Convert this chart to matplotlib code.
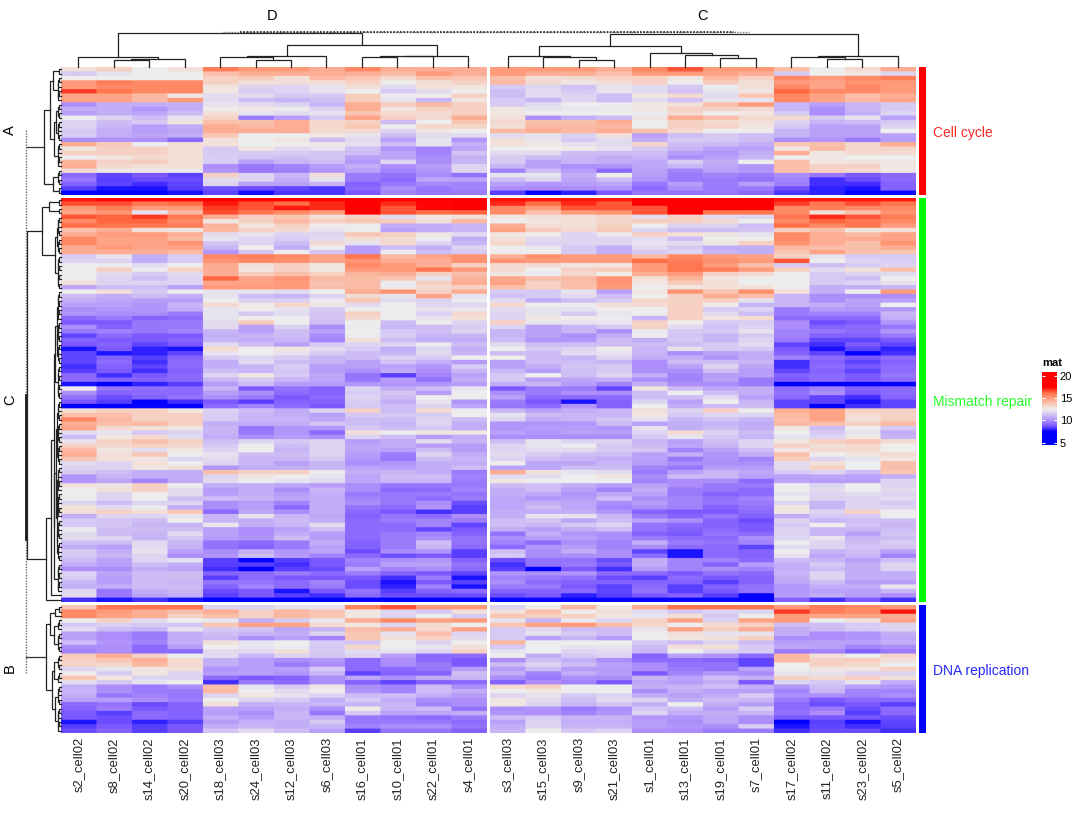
import numpy as np
import matplotlib
matplotlib.use("Agg")
import matplotlib.pyplot as plt
from matplotlib.colors import LinearSegmentedColormap, Normalize
from matplotlib.patches import Rectangle

plt.rcParams['font.family'] = ['Liberation Sans', 'DejaVu Sans']

sample_labels = ["s2_cell02","s8_cell02","s14_cell02","s20_cell02","s18_cell03","s24_cell03","s12_cell03","s6_cell03",
                 "s16_cell01","s10_cell01","s22_cell01","s4_cell01","s3_cell03","s15_cell03","s9_cell03","s21_cell03",
                 "s1_cell01","s13_cell01","s19_cell01","s7_cell01","s17_cell02","s11_cell02","s23_cell02","s5_cell02"]
pathways = ["Cell cycle", "Mismatch repair", "DNA replication"]
pathway_colors = ["#FF0000", "#00FF00", "#0000FF"]
row_slices = ["A", "C", "B"]
col_slices = ["D", "C"]

# expression values x10
cell_cycle = [
[130,135,125,130,158,150,150,145,155,145,145,145,150,150,150,145,155,165,150,150,140,125,132,145],
[115,122,125,125,140,145,145,145,145,142,150,145,150,145,145,140,150,150,148,145,115,125,128,118],
[125,125,125,125,135,137,130,142,138,132,140,138,140,130,132,135,135,128,142,135,155,150,155,158],
[150,158,155,155,135,130,130,130,135,125,130,135,142,132,128,130,135,125,137,130,150,148,152,150],
[150,155,155,155,128,118,118,122,130,120,130,128,115,118,113,122,120,115,124,130,155,148,155,150],
[168,160,155,155,128,116,118,122,125,115,120,125,112,120,115,122,120,113,122,128,163,155,155,150],
[148,148,142,128,120,120,115,115,136,124,126,135,112,120,118,112,128,132,120,138,155,148,140,145],
[148,148,142,150,120,112,110,112,136,122,110,128,115,110,118,112,120,113,122,122,155,148,142,148],
[100,108,108,108,122,120,118,110,145,137,142,135,115,120,125,125,128,130,140,150,110,105,110,115],
[108,108,102,108,125,128,124,118,145,128,135,135,128,122,123,124,128,135,135,132,110,100,110,115],
[105,108,106,112,130,122,120,122,138,132,132,135,128,125,125,125,124,132,125,128,115,100,108,118],
[125,118,112,122,134,96,104,115,148,135,132,145,130,100,108,112,128,145,140,132,132,115,122,105],
[118,112,115,128,140,140,145,133,135,112,125,138,132,140,140,145,125,135,132,130,118,110,112,115],
[118,110,104,108,145,142,145,132,138,125,133,133,130,142,142,142,125,135,134,128,115,105,105,118],
[115,108,104,106,145,145,145,132,132,118,128,125,142,145,142,145,140,132,125,125,110,105,105,125],
[116,108,106,108,138,125,125,128,122,112,120,120,120,122,117,130,105,112,115,112,110,105,105,105],
[100,101,101,92,130,125,128,112,120,105,122,102,130,122,115,120,108,115,115,112,100,102,96,104],
[145,137,125,130,130,125,125,127,121,112,122,108,130,127,122,120,133,112,112,108,138,140,133,145],
[128,135,135,130,115,128,120,122,113,102,98,106,125,125,126,122,115,110,105,105,128,142,133,133],
[135,135,134,130,115,115,116,114,112,106,98,114,120,120,112,112,112,104,102,108,145,128,132,132],
[125,128,132,130,116,114,112,114,105,106,100,109,116,112,110,108,110,100,105,110,125,127,125,125],
[143,134,136,130,116,105,110,112,103,118,100,110,115,105,110,108,107,116,108,125,140,128,129,127],
[145,132,130,130,100,95,98,104,108,100,104,118,110,105,100,102,106,110,106,102,140,135,135,127],
[131,127,127,124,102,95,97,102,105,98,102,118,98,112,104,92,105,98,105,102,140,135,132,127],
[92,85,88,85,135,118,110,130,96,94,100,94,122,122,108,125,104,96,98,96,100,95,88,92],
[95,84,86,86,120,118,108,122,96,92,106,106,112,118,106,112,102,96,96,94,98,82,86,92],
[90,85,82,85,118,105,105,110,90,95,99,98,105,102,104,106,95,104,96,104,97,82,82,90],
[84,78,78,84,87,86,85,83,92,100,95,98,100,100,100,102,92,100,96,96,87,80,78,90],
[75,75,75,78,85,77,83,83,88,98,95,96,84,75,80,88,95,94,95,92,83,80,75,76],
]
mismatch_repair = [
[172,174,174,174,175,175,175,175,175,175,175,175,173,172,172,172,175,175,175,175,172,172,172,172],
[166,166,160,162,172,166,162,170,175,170,174,175,170,162,170,165,175,175,175,175,168,160,166,160],
[150,158,150,150,168,165,172,170,175,165,174,175,155,150,165,165,165,175,175,175,155,158,155,155],
[148,152,122,142,166,160,155,150,175,165,162,163,155,140,150,152,165,175,160,160,155,130,140,152],
[165,163,168,160,145,135,138,130,135,120,128,130,128,130,130,133,120,135,120,118,160,170,165,158],
[155,163,163,155,128,135,142,135,138,136,130,142,125,128,130,133,136,135,132,125,155,163,160,155],
[162,160,160,158,143,128,135,126,124,108,108,110,145,130,130,135,125,118,118,112,162,155,160,150],
[140,145,130,128,142,135,132,122,125,105,108,110,148,137,132,137,118,112,112,114,135,140,128,130],
[145,150,150,145,120,122,118,118,138,135,128,120,128,125,118,124,135,130,128,122,155,145,142,148],
[155,148,148,142,122,118,116,120,130,132,124,108,130,120,118,118,121,112,125,125,155,145,145,148],
[155,148,148,152,114,118,112,132,122,132,118,110,133,118,118,118,122,120,127,135,152,145,140,152],
[145,150,148,148,110,125,108,125,104,112,108,118,125,123,115,108,120,115,108,108,142,140,140,145],
[145,145,145,142,102,114,124,114,104,124,112,115,125,125,115,108,115,118,110,108,138,148,140,138],
[116,122,108,116,155,158,155,148,160,142,148,152,145,153,150,150,142,155,150,148,135,122,115,116],
[118,118,108,116,152,155,153,148,152,145,145,152,152,150,150,150,162,158,153,150,165,125,118,116],
[124,124,120,125,146,130,135,128,155,150,145,135,132,132,128,128,150,160,150,140,115,112,116,118],
[125,135,124,135,145,128,135,128,150,150,160,150,132,125,135,136,150,160,158,150,135,120,130,140],
[125,120,115,120,145,136,140,135,143,145,135,140,128,124,133,126,145,150,135,132,125,115,118,120],
[125,118,112,118,163,148,152,142,141,138,122,143,147,140,142,152,130,143,128,125,125,115,112,125],
[130,118,118,118,148,148,150,139,141,124,135,145,148,135,140,152,128,137,130,125,126,115,118,122],
[106,112,112,105,150,150,150,140,141,124,132,134,140,135,140,150,125,128,130,130,125,108,108,110],
[125,130,115,125,122,122,120,125,145,152,135,145,116,115,122,105,128,152,138,153,130,108,125,150],
[112,108,112,108,122,112,110,118,132,122,148,122,113,115,120,112,125,134,145,140,110,100,100,100],
[108,106,104,104,125,117,117,124,138,120,118,124,120,108,112,116,133,134,135,122,110,100,105,105],
[105,105,102,110,132,126,133,127,120,125,119,119,133,125,124,130,132,135,125,110,110,108,105,125],
[100,102,102,108,122,126,122,115,125,125,122,123,120,122,122,125,125,135,115,118,96,104,103,103],
[102,100,100,96,122,115,120,114,135,125,117,132,118,122,115,123,125,135,120,112,96,98,98,110],
[92,96,90,92,122,125,125,114,132,125,122,130,118,128,126,124,110,135,128,132,92,92,92,108],
[88,88,95,96,120,136,125,112,125,112,125,118,135,122,122,123,135,125,115,116,100,86,88,102],
[100,90,95,95,120,105,117,100,124,110,112,116,118,105,110,115,135,120,113,118,100,90,92,95],
[95,97,95,98,110,105,112,105,125,115,112,118,110,105,110,100,124,115,115,122,98,95,92,102],
[85,92,88,88,108,110,112,100,124,116,110,110,110,105,100,108,125,114,110,115,98,90,90,95],
[90,88,88,90,110,108,110,98,130,112,108,108,112,102,102,112,108,115,110,118,95,85,85,88],
[88,90,85,88,120,112,105,115,118,118,124,112,120,112,112,112,112,112,115,120,85,82,88,85],
[78,88,80,78,132,125,128,120,116,108,118,108,125,115,118,125,110,122,115,115,88,78,85,80],
[85,78,80,85,122,125,122,116,112,110,120,110,112,112,120,122,110,100,105,108,90,85,75,82],
[85,90,84,90,115,118,116,110,112,118,115,125,125,112,110,118,108,108,102,108,98,92,88,92],
[85,92,82,92,108,120,112,110,105,113,108,104,105,112,112,110,100,112,112,110,82,90,85,90],
[82,90,85,92,108,110,116,104,105,105,102,116,105,108,114,115,100,105,118,106,82,92,88,92],
[84,88,82,90,112,110,114,104,100,108,100,110,110,104,112,115,100,100,112,104,85,90,85,92],
[92,82,88,92,118,128,115,106,94,84,98,105,115,125,112,118,108,98,104,104,90,92,88,95],
[92,90,90,92,110,115,110,106,95,104,94,108,115,105,106,108,100,98,105,96,88,92,88,92],
[78,75,80,84,104,112,104,104,102,102,102,104,108,110,104,98,108,100,100,96,75,75,75,75],
[126,95,93,92,110,88,94,90,118,108,112,122,88,96,96,85,128,112,106,108,92,98,90,92],
[100,90,92,92,104,100,92,90,116,114,104,125,100,96,100,100,112,125,112,108,94,100,88,92],
[94,86,90,94,100,96,88,92,118,112,125,125,105,92,92,92,112,112,120,105,92,85,82,90],
[88,84,75,82,88,84,90,90,116,108,122,102,96,88,78,90,118,105,125,110,85,85,78,85],
[75,75,76,75,92,98,92,88,115,112,118,106,95,92,102,90,125,108,112,112,85,75,82,85],
[130,135,135,127,117,112,108,118,135,112,132,125,110,105,108,110,130,118,135,125,145,148,135,135],
[140,140,135,135,116,110,108,105,115,115,116,125,122,112,110,110,128,115,118,118,142,148,132,135],
[155,142,135,135,116,110,110,106,112,112,118,112,118,108,110,114,122,110,114,110,140,148,130,135],
[145,140,142,135,108,108,108,114,112,110,118,108,102,102,102,112,105,108,110,108,142,140,135,142],
[148,132,130,128,110,95,102,102,115,112,115,108,102,104,104,102,122,108,112,108,128,112,125,115],
[120,122,115,118,110,95,102,92,130,125,128,128,105,102,105,104,118,132,118,112,125,115,122,108],
[112,127,132,120,108,100,104,100,118,112,104,108,100,100,100,100,115,122,115,110,122,118,128,110],
[122,135,140,135,112,118,115,118,104,108,120,110,112,122,118,118,110,105,112,118,128,135,138,132],
[135,132,135,132,115,125,112,118,106,108,104,104,118,122,124,115,112,106,110,118,135,130,132,125],
[142,128,120,128,118,125,110,118,106,105,112,104,118,120,120,115,114,98,105,112,128,132,132,125],
[145,130,138,125,122,112,112,118,104,96,118,108,120,116,112,112,105,108,102,108,140,125,128,132],
[138,130,128,118,120,110,110,115,102,95,112,110,118,112,110,108,105,95,102,98,136,118,122,128],
[120,118,130,125,118,110,105,110,100,102,108,108,125,106,106,110,104,100,100,100,120,130,125,140],
[118,118,128,130,102,108,108,110,106,104,108,112,105,106,112,112,98,95,104,104,120,135,125,140],
[115,112,108,108,140,135,135,124,108,110,108,96,145,130,122,120,96,105,110,106,115,118,112,138],
[102,110,108,108,118,128,125,122,106,112,112,98,120,120,125,128,100,112,110,105,105,106,105,108],
[102,106,98,108,120,125,122,120,106,110,110,96,128,125,125,125,98,100,100,92,106,104,104,118],
[130,128,135,125,108,108,106,104,100,95,95,95,112,112,108,104,105,100,95,96,125,118,125,118],
[125,130,135,120,104,108,100,110,100,92,92,98,108,112,105,98,108,96,95,92,125,120,125,120],
[125,118,125,120,105,108,104,108,96,95,96,94,108,106,102,106,105,96,90,92,122,118,120,118],
[124,118,125,112,112,110,106,108,98,95,92,96,106,102,104,112,100,98,94,98,125,118,118,120],
[118,112,118,118,100,104,98,108,100,95,100,86,106,108,106,100,104,98,94,96,118,110,118,115],
[130,120,124,108,100,104,92,108,94,92,102,84,106,112,106,98,100,98,90,94,128,110,118,118],
[130,135,130,138,92,106,100,108,92,88,82,84,108,108,108,102,90,88,88,92,128,118,135,125],
[108,118,118,122,110,122,110,106,90,95,92,100,108,122,122,110,96,90,95,90,108,115,115,125],
[115,114,112,125,110,108,112,108,92,96,98,96,112,114,106,112,105,100,90,86,118,110,112,112],
[115,114,110,110,123,108,110,120,92,92,98,85,112,110,115,118,94,92,90,88,115,125,114,110],
[124,112,112,112,105,100,105,112,92,92,85,88,108,104,108,112,94,90,92,88,118,110,110,112],
[120,112,110,120,105,100,108,104,92,96,98,90,94,108,102,100,90,88,94,92,118,110,105,114],
[120,118,110,114,104,102,112,104,92,96,100,94,100,104,104,100,96,92,92,100,118,122,110,112],
[112,112,120,110,94,92,96,108,90,96,112,94,98,92,100,98,108,96,94,98,125,118,112,116],
[108,105,120,110,94,90,96,105,90,96,110,92,92,102,104,98,100,92,92,85,120,118,114,114],
[115,108,122,105,100,108,102,106,86,100,102,84,112,100,108,100,85,78,92,90,125,110,112,105],
[115,110,118,100,102,112,104,98,92,86,88,84,115,100,100,100,92,78,92,90,122,106,110,98],
[112,105,118,122,84,76,84,88,98,100,102,90,86,94,94,86,108,98,98,92,112,110,105,112],
[108,105,112,108,84,84,82,88,96,105,105,94,82,94,95,88,108,98,90,104,108,115,108,118],
[100,100,108,106,82,75,84,86,105,98,100,92,84,75,88,82,104,98,100,98,108,112,108,118],
[118,106,112,112,90,92,96,92,96,90,88,85,102,100,102,92,92,88,94,92,110,118,108,108],
[116,104,112,112,84,92,88,88,88,82,96,78,98,96,94,86,84,92,88,90,108,118,108,108],
[110,104,112,110,94,94,92,98,86,78,88,84,100,92,90,90,90,90,84,90,106,112,104,104],
[108,108,112,112,90,98,92,96,86,80,98,78,96,96,88,84,92,84,90,94,102,108,108,122],
[118,95,108,110,86,88,78,88,94,84,90,92,90,90,92,85,94,84,88,94,102,105,105,110],
[120,95,105,108,84,88,84,82,92,86,86,86,86,88,80,84,88,90,84,75,104,108,104,100],
[82,78,82,78,75,75,75,75,75,75,75,75,76,76,76,76,76,76,76,75,90,82,88,82],
]
dna_replication = [
[138,160,160,160,118,118,122,122,156,165,150,150,118,125,142,128,145,160,160,160,150,158,155,150],
[155,150,145,140,145,135,142,138,127,118,115,130,130,140,126,130,120,115,118,118,168,158,155,172],
[155,148,145,135,140,135,142,138,128,118,125,115,138,135,135,128,122,130,115,125,150,148,148,145],
[125,135,120,125,123,108,116,123,145,155,148,150,122,110,124,118,135,148,118,148,150,125,130,148],
[115,117,115,114,138,148,148,132,128,118,132,125,138,148,150,140,133,125,132,135,112,112,116,118],
[120,112,110,122,115,114,106,110,140,145,132,148,115,120,112,112,122,148,135,145,108,112,115,118],
[105,100,96,108,112,110,108,118,138,122,140,118,115,122,115,112,125,130,122,122,108,100,102,108],
[105,100,96,108,110,100,105,98,138,130,135,120,115,105,110,104,125,128,130,135,100,100,102,106],
[112,102,98,108,130,122,125,116,114,125,118,125,142,125,125,125,115,112,118,112,104,105,105,108],
[100,100,92,104,125,122,124,115,133,125,122,130,115,125,122,122,112,130,130,115,106,105,98,100],
[98,100,92,92,120,120,130,115,120,122,118,135,122,125,118,120,110,125,118,116,96,98,90,96],
[137,145,134,125,120,110,118,114,118,104,92,92,125,108,115,118,90,105,102,92,142,130,125,133],
[135,138,145,132,108,104,100,102,92,100,92,88,100,112,108,100,92,92,90,85,142,134,136,130],
[133,133,142,132,108,104,96,100,92,100,96,88,112,118,112,105,100,94,94,85,125,135,132,125],
[118,122,128,130,102,104,104,115,92,92,95,104,104,112,104,104,100,96,94,105,125,128,128,135],
[125,116,128,118,104,105,102,110,85,90,90,112,108,98,108,104,88,98,102,100,122,122,118,118],
[138,128,118,118,92,88,90,100,106,100,108,110,100,96,100,100,110,105,112,108,135,132,135,130],
[120,115,122,125,82,95,92,100,90,85,90,92,90,100,98,88,106,104,108,88,118,115,122,108],
[108,100,96,100,140,122,115,128,100,98,112,100,132,135,125,125,108,110,112,108,102,112,105,102],
[110,100,96,96,142,125,120,125,102,98,112,108,125,128,124,125,100,108,105,105,98,110,98,98],
[108,95,98,95,118,128,122,118,112,112,108,104,118,122,115,118,108,105,108,116,100,100,98,100],
[105,104,100,96,125,118,115,108,115,108,100,100,128,120,112,120,118,108,112,110,96,88,92,92],
[92,94,86,90,130,108,110,110,110,110,98,100,128,118,110,114,108,125,108,104,92,86,88,84],
[90,96,88,90,105,105,108,100,126,110,112,94,100,102,96,100,115,112,104,116,92,96,86,92],
[88,84,92,90,104,100,110,95,115,105,106,108,102,100,98,102,118,108,108,110,94,100,84,92],
[88,86,92,90,108,104,110,108,95,94,92,96,112,116,110,110,102,102,106,100,88,88,88,86],
[78,86,80,84,104,108,108,115,95,96,95,92,105,118,108,108,104,100,106,100,75,84,78,85],
[84,88,84,88,108,110,108,110,98,100,100,94,108,118,110,110,104,102,100,116,78,85,82,84],
[86,90,84,88,114,120,112,105,84,94,94,90,110,125,115,118,100,100,96,96,82,86,86,82],
]
blocks = [cell_cycle, mismatch_repair, dna_replication]

# dendrogram merge heights: [height, left, right]; an int is a tight bunch of n leaves
col_tree_left = [34, [10, 0, [8, [7, 1, 2], 3]],
                 [22, [11, [10, 4, [7, 5, 6]], 7], [11, [10.5, [10, 8, 9], 10], 11]]]
col_tree_right = [33, [21, [10.5, 12, [10, 13, [7, 14, 15]]], [14, 16, [12, 17, [9, 18, 19]]]],
                  [11, [10, 20, [7.5, 21, 22]], 23]]
row_tree_a = [17, [11, [8, 2, 6], [7, [5, 4, 5], 6]], [8, 4, 2]]
row_tree_c = [34, [19, [12, 2, 2], [6, 9, 8]],
              [15, [10, [7, [6, [4, 7, 10], 8], [7, [5, [4, 5, 10], [4, 12, 10]], 7]], 1], 1]]
row_tree_b = [15, [11, [6, 2, 1], [7, 3, 5]], [9, [7, 4, 3], [6, 5, 6]]]
row_trees = [row_tree_a, row_tree_c, row_tree_b]

cmap = LinearSegmentedColormap.from_list("mat", [
    (0.0, "#0000FF"), (0.125, "#7A58FF"), (0.25, "#AC8DFB"), (0.375, "#D0C0F5"), (0.5, "#EEEEEE"),
    (0.625, "#F9C9B8"), (0.75, "#FF9C7C"), (0.875, "#FF6D45"), (1.0, "#FF0000")])
norm = Normalize(7.5, 17.5)

W, H = 1080, 813
fig = plt.figure(figsize=(W / 100, H / 100), dpi=100, facecolor="white")


def pax(x0, y0, x1, y1, **kw):
    return fig.add_axes([x0 / W, 1 - y1 / H, (x1 - x0) / W, (y1 - y0) / H], **kw)


col_spans = [(60.5, 486.0, 0, 12), (490.0, 915.5, 12, 24)]
row_spans = [(67.0, 195.0), (198.0, 602.0), (605.0, 733.0)]

for bi, (data, (y0, y1)) in enumerate(zip(blocks, row_spans)):
    mat = np.array(data, dtype=float) / 10
    for x0, x1, c0, c1 in col_spans:
        ax = pax(x0, y0, x1, y1)
        # repeated cells keep the edges crisp apart from a pixel of softening, as in the source raster
        cells = np.repeat(np.repeat(mat[:, c0:c1], 4, axis=0), 32, axis=1)
        ax.imshow(cells, cmap=cmap, norm=norm, aspect="auto", interpolation="bilinear",
                  extent=[0, c1 - c0, mat.shape[0], 0])
        ax.set_yticks([])
        for s in ax.spines.values():
            s.set_visible(False)
        if bi == 2:
            ax.set_xticks(np.arange(c1 - c0) + 0.5)
            ax.set_xticklabels(sample_labels[c0:c1], rotation=90, fontsize=9.4, color="#222222")
            ax.tick_params(axis="x", length=0, pad=3)
        else:
            ax.set_xticks([])
    # annotation bar
    bar = pax(918.5, y0, 926, y1)
    bar.add_patch(Rectangle((0, 0), 1, 1, color=pathway_colors[bi], lw=0))
    bar.axis("off")
    fig.text(933 / W, 1 - ((y0 + y1) / 2 + 1.5) / H, pathways[bi], color=pathway_colors[bi], fontsize=10,
             va="center", ha="left", alpha=0.85)

# column centres in pixels
col_x = []
for x0, x1, c0, c1 in col_spans:
    col_x += list(x0 + (np.arange(c1 - c0) + 0.5) * (x1 - x0) / (c1 - c0))
col_x = np.array(col_x)


def draw_tree(node, pos, next_leaf, segs, is_index):
    """Collects the elbow segments of a nested merge list; returns (centre, height)."""
    if isinstance(node, int):
        if is_index:
            return pos[node], 0.0
        if node == 1:
            i = next_leaf[0]
            next_leaf[0] += 1
            return pos[i], 0.0
        a = (node + 1) // 2
        node = [1.2 + 0.6 * np.log2(node), a, node - a]
    h, l, r = node
    cl, hl = draw_tree(l, pos, next_leaf, segs, is_index)
    cr, hr = draw_tree(r, pos, next_leaf, segs, is_index)
    segs.append(((cl, hl), (cl, h), (cr, h), (cr, hr)))
    return (cl + cr) / 2, h


LINE = dict(color="#222222", lw=0.9, solid_joinstyle="miter")

# top dendrogram, pixel scaled axes
top = pax(60, 25, 916, 67)
top.set_xlim(60, 916)
top.set_ylim(0, 42)
top.axis("off")
centres = []
for tree in (col_tree_left, col_tree_right):
    segs = []
    c, h = draw_tree(tree, col_x, [0], segs, True)
    centres.append(c)
    for s in segs:
        xs, ys = zip(*s)
        top.plot(xs, ys, **LINE, clip_on=False)
top.plot([223, 749], [35, 35], color="#777777", lw=1, ls=(0, (1, 1)), clip_on=False)
top.plot(centres, [35, 35], color="#222222", lw=1.2, ls=(0, (1, 1)), clip_on=False)
fig.text(272 / W, 1 - 16 / H, col_slices[0], fontsize=10.5, ha="center", va="center")
fig.text(702 / W, 1 - 16 / H, col_slices[1], fontsize=10.5, ha="center", va="center")

# left dendrogram, pixel scaled axes
left = pax(20, 60, 60.5, 740)
left.set_xlim(40.5, 0)
left.set_ylim(740, 60)
left.axis("off")
root_y = []
for bi, (tree, data, (y0, y1)) in enumerate(zip(row_trees, blocks, row_spans)):
    n = len(data)
    pos = y0 + (np.arange(n) + 0.5) * (y1 - y0) / n
    segs = []
    c, h = draw_tree(tree, pos, [0], segs, False)
    root_y.append(c)
    for s in segs:
        ys, xs = zip(*s)
        left.plot(xs, ys, **LINE, clip_on=False)
    left.plot([h, 35], [c, c], color="#333333", lw=0.9, clip_on=False)
left.plot([35, 35], [root_y[0] - 17, root_y[2] + 16], color="#666666", lw=1, ls=(0, (1, 1)), clip_on=False)
left.plot([35, 35], [root_y[1], root_y[1] + 145], color="#111111", lw=1.3, clip_on=False)
for name, y in zip(row_slices, [130, 400, 668]):
    fig.text(10 / W, 1 - y / H, name, fontsize=10.5, rotation=90, ha="center", va="center")

# colour legend
grad = np.linspace(20.83, 4.55, 200).reshape(-1, 1)
cb = pax(1042, 372, 1057, 444.7)
cb.imshow(grad, cmap=cmap, norm=norm, aspect="auto", extent=[0, 1, 4.55, 20.83], interpolation="bilinear")
cb.set_xticks([])
cb.set_yticks([5, 10, 15, 20])
cb.tick_params(axis="y", left=True, right=True, labelleft=False, labelright=True, direction="in",
               color="white", length=2.5, width=0.8, labelsize=8, pad=2)
for s in cb.spines.values():
    s.set_visible(False)
fig.text(1042 / W, 1 - 363 / H, "mat", fontsize=8, fontweight="bold", ha="left", va="center")

fig.savefig("out.png", dpi=100, facecolor="white")
